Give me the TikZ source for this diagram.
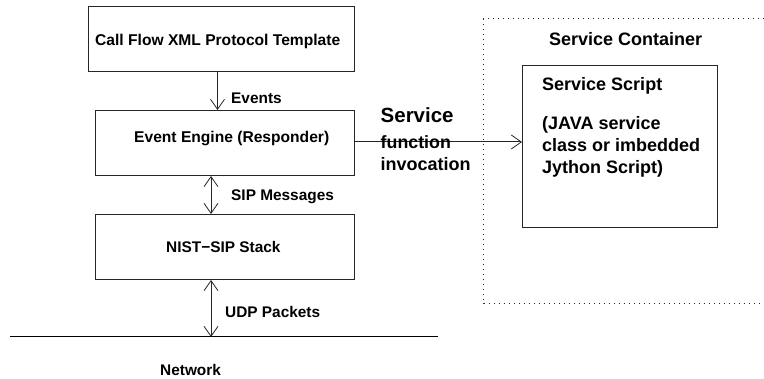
\documentclass[tikz,border=0pt]{standalone}
\usepackage{fontspec}
\setmainfont{Liberation Sans}
\usetikzlibrary{arrows.meta}
\tikzset{
  x=1pt,y=-1pt,
  box/.style={draw=black!85,line width=1pt,inner sep=0pt,anchor=north west},
  lab/.style={anchor=base west,inner sep=0pt,font=\fontsize{15.4}{18}\selectfont\bfseries},
  labwide/.style={anchor=base west,inner sep=0pt,font=\fontsize{15.6}{18}\selectfont\bfseries},
  labbig/.style={anchor=base west,inner sep=0pt,font=\fontsize{18}{21}\selectfont\bfseries},
  conn/.style={draw=black!85,line width=1pt,-{Straight Barb[length=10pt,width=14pt,line width=0.8pt]}},
  connboth/.style={draw=black!85,line width=1pt,{Straight Barb[length=10pt,width=14pt,line width=0.8pt]}-{Straight Barb[length=10pt,width=14pt,line width=0.8pt]}},
}
\begin{document}
\begin{tikzpicture}
\useasboundingbox (0,0) rectangle (764,379);
\node[box,minimum width=266pt,minimum height=65pt] (flow) at (88,6) {};
\node[box,minimum width=259.5pt,minimum height=65pt] (engine) at (94.5,110) {};
\node[box,minimum width=259.5pt,minimum height=65pt] (stack) at (94.5,214) {};
\node[box,minimum width=195pt,minimum height=162pt] (script) at (522,65) {};
\coordinate (netL) at (10,337);
\coordinate (netR) at (438,337);
\coordinate (xa) at (217.5,0);
\coordinate (xb) at (211,0);
\coordinate (ya) at (0,142);
\draw[black,line width=1pt] (netL) -- (netR);
\draw[conn] (xa |- flow.south) -- (xa |- engine.north);
\draw[connboth] (xb |- engine.south) -- (xb |- stack.north);
\draw[connboth] (xb |- stack.south) -- (xb |- netL);
\draw[conn] (engine.east |- ya) -- (script.west |- ya);
\draw[black!85,line width=1pt,dash pattern=on 1pt off 4pt] (763.5,19) -- (483.5,19) -- (483.5,304) -- (763.5,304);
\node[labwide] (tflow) at (95,46) {Call Flow XML Protocol Template};
\node[lab] (tevents) at (231,104) {Events};
\node[labwide] (tengine) at (134,143) {Event Engine (Responder)};
\node[lab] (tsip) at (231,201) {SIP Messages};
\node[lab] (tstack) at (166,253) {NIST−SIP Stack};
\node[lab] (tudp) at (225,318) {UDP Packets};
\node[lab] (tnet) at (160,376) {Network};
\node[anchor=base west,inner sep=0pt,font=\fontsize{20.5}{24}\selectfont\bfseries] (tserv) at (380.5,123) {Service};
\node[labbig,font=\fontsize{17.8}{21}\selectfont\bfseries] (tfunc) at (380.5,149) {function};
\node[labbig] (tinv) at (380.5,171) {invocation};
\node[labbig] (tcont) at (549,46) {Service Container};
\node[labbig] (tss) at (542,91) {Service Script};
\node[labbig] (tj1) at (542,130) {(JAVA service};
\node[labbig] (tj2) at (542,152) {class or imbedded};
\node[labbig] (tj3) at (542,174) {Jython Script)};
\end{tikzpicture}
\end{document}
